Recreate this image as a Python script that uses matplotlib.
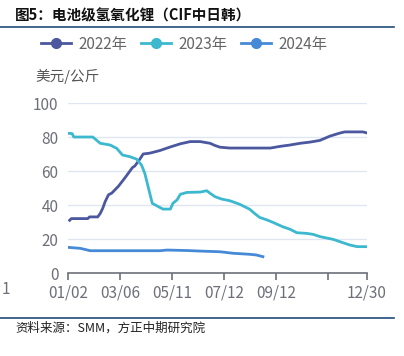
import matplotlib.pyplot as plt
from matplotlib.lines import Line2D

plt.rcParams['font.family'] = ['Noto Sans CJK SC', 'DejaVu Sans']

# x = days since 01/02
days_2022 = [2, 4, 24, 26, 36, 39, 42, 45, 49, 53, 61, 69, 75, 78, 81, 87, 91, 99, 111, 123,
             136, 148, 160, 172, 178, 184, 196, 245, 257, 269, 281, 293, 305, 317, 329, 335, 357, 361]
vals_2022 = [31, 32, 32, 33, 33, 35, 38, 42, 46, 47, 51, 56, 60, 62, 63, 67, 70, 70.5, 72, 74,
             76, 77.3, 77.3, 76.3, 75, 74, 73.5, 73.5, 74.5, 75.3, 76.3, 77, 78, 80.5, 82.3, 83, 83, 82.5]

days_2023 = [0, 5, 7, 30, 39, 51, 59, 66, 75, 83, 89, 93, 97, 102, 108, 115, 124, 127, 132, 136,
             144, 160, 168, 172, 178, 186, 196, 208, 220, 226, 232, 241, 248, 260, 269, 277, 289,
             297, 305, 321, 333, 341, 350, 361]
vals_2023 = [82.2, 82, 80, 80, 76.3, 75.3, 73.3, 69.4, 68.4, 67, 63.5, 58.6, 50.8, 41, 39.4, 37.6,
             37.6, 41, 43, 46.3, 47.4, 47.6, 48.4, 46.9, 44.9, 43.5, 42.5, 40.4, 37.5, 35, 32.7,
             31.2, 29.8, 27.2, 25.7, 23.7, 23.3, 22.7, 21.4, 19.8, 17.8, 16.5, 15.5, 15.5]

days_2024 = [0, 15, 27, 111, 120, 145, 160, 184, 200, 220, 228, 236]
vals_2024 = [15.1, 14.5, 13.1, 13.1, 13.5, 13.2, 12.9, 12.5, 11.6, 11, 10.6, 9.6]

tick_days = [0, 63, 126, 189, 252, 315, 362]
tick_labels = ['01/02', '03/06', '05/11', '07/12', '09/12', '', '12/30']

c22, c23, c24 = '#4b579f', '#3cb8cf', '#468ad7'
gray = '#6e7079'

fig = plt.figure(figsize=(4.04, 3.56), dpi=100)
ax = fig.add_axes([68 / 404, 1 - 273 / 356, 299 / 404, 170 / 356])

ax.plot(days_2022, vals_2022, color=c22, lw=2)
ax.plot(days_2023, vals_2023, color=c23, lw=2)
ax.plot(days_2024, vals_2024, color=c24, lw=2)

ax.set_xlim(0, 362)
ax.set_ylim(0, 100)
ax.set_yticks([0, 20, 40, 60, 80, 100])
ax.set_xticks(tick_days)
ax.set_xticklabels(tick_labels)
ax.grid(axis='y', color='#e0e6f1', lw=1)
ax.set_axisbelow(True)
for s in ['top', 'right', 'left']:
    ax.spines[s].set_visible(False)
ax.spines['bottom'].set_color(gray)
ax.spines['bottom'].set_linewidth(1.2)
ax.tick_params(axis='x', colors=gray, labelsize=11, length=5, width=1.2, pad=3, direction='out')
ax.tick_params(axis='y', colors=gray, labelsize=11, length=0, pad=7)

# legend
handles = [Line2D([], [], color=c, lw=2, marker='o', markersize=7) for c in (c22, c23, c24)]
fig.legend(handles, ['2022年', '2023年', '2024年'], loc='center left',
           bbox_to_anchor=(33 / 404, 1 - 44 / 356), ncol=3, frameon=False, borderpad=0,
           fontsize=11, handlelength=2.0, columnspacing=0.9, handletextpad=0.45,
           labelcolor='#666666')

fig.text(35 / 404, 1 - 76 / 356, '美元/公斤', fontsize=10.5, color='#555555', va='center')
fig.text(15 / 404, 1 - 15 / 356, '图5：电池级氢氧化锂（CIF中日韩）', fontsize=10.5,
         fontweight='bold', va='center', color='#111111')
fig.text(2 / 404, 1 - 289 / 356, '1', fontsize=11, color=gray, va='center')
fig.text(15 / 404, 1 - 328 / 356, '资料来源：SMM，方正中期研究院', fontsize=9,
         style='italic', va='center', color='#222222')

fig.add_artist(Line2D([0, 394 / 404], [1 - 27 / 356] * 2, color='#1f4e79', lw=1.2))
fig.add_artist(Line2D([0, 394 / 404], [1 - 318 / 356] * 2, color='#1f4e79', lw=1.2))

fig.savefig('out.png', dpi=100)
